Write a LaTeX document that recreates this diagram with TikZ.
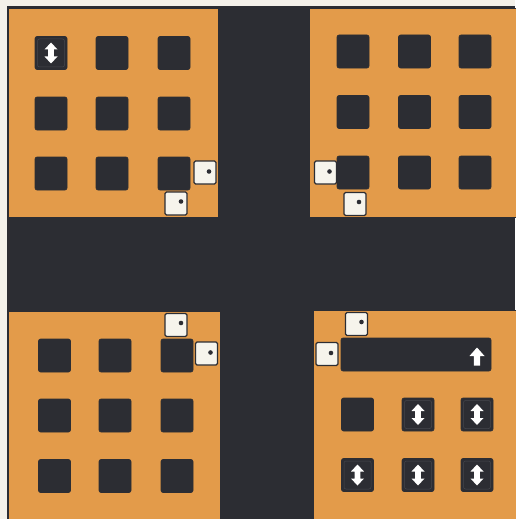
\documentclass[tikz,border=0pt]{standalone}
\usetikzlibrary{calc}
\definecolor{bgc}{HTML}{F4F1EA}
\definecolor{darkc}{HTML}{2C2D33}
\definecolor{orangec}{HTML}{E39B4A}
\definecolor{paperc}{HTML}{F6F4EC}
\definecolor{framec}{HTML}{46474D}
\tikzset{
  block/.style={fill=orangec,draw=darkc,line width=0.8pt},
  sq/.style={rectangle,fill=darkc,draw=darkc,line width=0.6pt,minimum width=32pt,minimum height=33pt,inner sep=0pt,rounded corners=2pt},
  arsq/.style={sq,path picture={\draw[framec,line width=0.5pt] ([shift={(2.5pt,-2.5pt)}]path picture bounding box.north west) rectangle ([shift={(-2.5pt,2.5pt)}]path picture bounding box.south east);}},
  wsq/.style={rectangle,fill=paperc,draw=darkc,line width=1.3pt,minimum width=22pt,minimum height=23pt,inner sep=0pt,rounded corners=1.5pt},
  dotc/.style={fill=darkc},
  dbl/.pic={\fill[white] (0,-10.5) -- (6.5,-3.5) -- (2.8,-3.5) -- (2.8,3.5) -- (6.5,3.5) -- (0,10.5) -- (-6.5,3.5) -- (-2.8,3.5) -- (-2.8,-3.5) -- (-6.5,-3.5) -- cycle;},
  upar/.pic={\fill[white] (0,-9.5) -- (7.5,-1) -- (3.2,-1) -- (3.2,8.5) -- (-3.2,8.5) -- (-3.2,-1) -- (-7.5,-1) -- cycle;}
}
\begin{document}
\begin{tikzpicture}[x=1pt,y=-1pt]
\fill[bgc] (0,0) rectangle (515,519);
\useasboundingbox (0,0) rectangle (515,519);
% dark ground
\fill[darkc] (6.5,6.5) rectangle (515,519);
% blocks
\filldraw[block] (8,8) rectangle (218,217);
\filldraw[block] (309,8) rectangle (516,217);
\filldraw[block] (8,311) rectangle (220,520);
\filldraw[block] (313,310) rectangle (516,520);
% top-left block
\node[arsq] (tl11) at (51,53) {};
\node[sq] (tl12) at (112,53) {};
\node[sq] (tl13) at (174,53) {};
\node[sq] (tl21) at (51,113.5) {};
\node[sq] (tl22) at (112,113.5) {};
\node[sq] (tl23) at (174,113.5) {};
\node[sq] (tl31) at (51,173.5) {};
\node[sq] (tl32) at (112,173.5) {};
\node[sq] (tl33) at (174,173.5) {};
\pic at (tl11) {dbl};
\node[wsq] (tlw1) at (205,172.5) {};
\node[wsq] (tlw2) at (176,203.5) {};
% top-right block
\node[sq] (tr11) at (353,51.5) {};
\node[sq] (tr12) at (414.5,51.5) {};
\node[sq] (tr13) at (475,51.5) {};
\node[sq] (tr21) at (353,112) {};
\node[sq] (tr22) at (414.5,112) {};
\node[sq] (tr23) at (475,112) {};
\node[sq] (tr31) at (353,172.5) {};
\node[sq] (tr32) at (414.5,172.5) {};
\node[sq] (tr33) at (475,172.5) {};
\node[wsq] (trw1) at (325.5,172.5) {};
\node[wsq] (trw2) at (355,204) {};
% bottom-left block
\node[sq] (bl11) at (54.5,355.5) {};
\node[sq] (bl12) at (115,355.5) {};
\node[sq] (bl13) at (177,355.5) {};
\node[sq] (bl21) at (54.5,415.5) {};
\node[sq] (bl22) at (115,415.5) {};
\node[sq] (bl23) at (177,415.5) {};
\node[sq] (bl31) at (54.5,476) {};
\node[sq] (bl32) at (115,476) {};
\node[sq] (bl33) at (177,476) {};
\node[wsq] (blw1) at (176,325) {};
\node[wsq] (blw2) at (206.5,353.5) {};
% bottom-right block
\node[sq,minimum width=150pt] (brbar) at (416,354.5) {};
\pic at (477,357) {upar};
\node[sq] (br21) at (357.5,414.5) {};
\node[arsq] (br22) at (418,414.5) {};
\node[arsq] (br23) at (477,414.5) {};
\node[arsq] (br31) at (357.5,475) {};
\node[arsq] (br32) at (418,475) {};
\node[arsq] (br33) at (477,475) {};
\pic at (br22) {dbl};
\pic at (br23) {dbl};
\pic at (br31) {dbl};
\pic at (br32) {dbl};
\pic at (br33) {dbl};
\node[wsq] (brw1) at (356.5,324) {};
\node[wsq] (brw2) at (327,354) {};
% dots in white squares
\foreach \n/\dx/\dy in {tlw1/4/-1,tlw2/5/-2,trw1/4/-1,trw2/4/-2,blw1/5/-2,blw2/4/-1,brw1/5/-2,brw2/4/-1}{
  \fill[dotc] ($(\n)+(\dx,\dy)$) circle (2.3pt);
}
\end{tikzpicture}
\end{document}
